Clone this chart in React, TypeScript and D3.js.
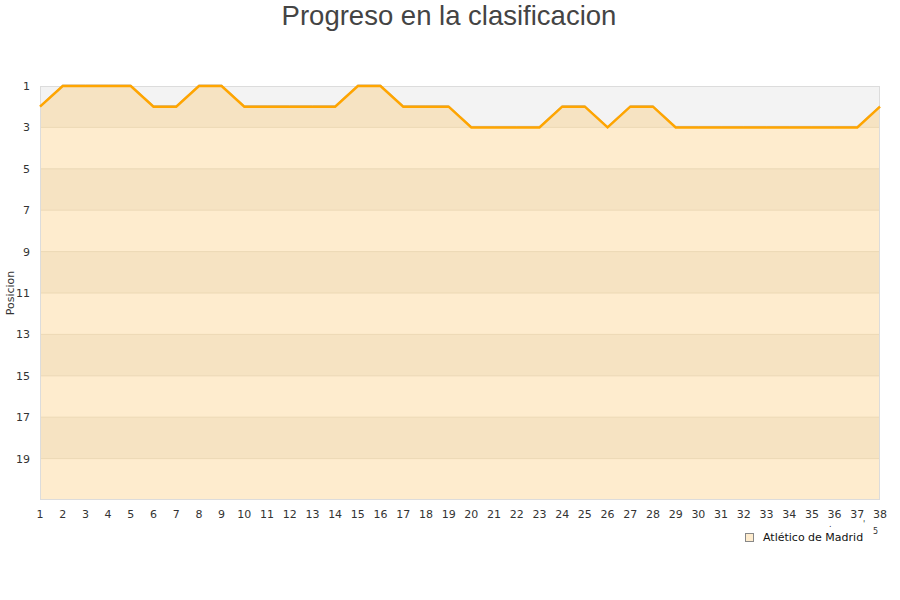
import React from "react";
import { scaleLinear, line, area, range } from "d3";

const jornadas = range(1, 39);
const posiciones = [
  2, 1, 1, 1, 1, 2, 2, 1, 1, 2, 2, 2, 2, 2, 1, 1, 2, 2, 2, 3, 3, 3, 3, 2, 2, 3,
  2, 2, 3, 3, 3, 3, 3, 3, 3, 3, 3, 2,
];
const yTicks = [1, 3, 5, 7, 9, 11, 13, 15, 17, 19];
const bandStarts = [1, 3, 5, 7, 9, 11, 13, 15, 17, 19];
const equipo = "Atlético de Madrid";

const W = 900;
const H = 600;
const left = 40;
const right = 880;
const top = 86;
const bottom = 500;

export default function App() {
  const x = scaleLinear().domain([1, 38]).range([left, right]);
  const y = scaleLinear().domain([1, 21]).range([top, bottom]);

  const pts = jornadas.map((j, i) => ({ j, p: posiciones[i] }));
  const linePath = line<{ j: number; p: number }>()
    .x((d) => x(d.j))
    .y((d) => y(d.p))(pts);
  const greyArea = area<{ j: number; p: number }>()
    .x((d) => x(d.j))
    .y0(y(1))
    .y1((d) => y(d.p))(pts);

  return (
    <div style={{ position: "absolute", left: 0, top: 0 }}>
      <svg width={W} height={H} style={{ display: "block", background: "#fff" }}>
        <text
          x={449}
          y={25}
          textAnchor="middle"
          fontFamily="Liberation Sans, Arial, sans-serif"
          fontSize={27.5}
          fill="#444"
        >
          Progreso en la clasificacion
        </text>

        {/* bands */}
        {bandStarts.map((b, i) => (
          <rect
            key={b}
            x={left}
            y={y(b)}
            width={right - left}
            height={y(b + 2) - y(b)}
            fill={i % 2 === 0 ? "#f6e3c2" : "#feecce"}
          />
        ))}
        {yTicks.slice(1).map((t) => (
          <line
            key={t}
            x1={left}
            x2={right}
            y1={y(t)}
            y2={y(t)}
            stroke="#ecd8b4"
            strokeWidth={1}
          />
        ))}

        <path d={greyArea || ""} fill="#f3f3f3" />

        <rect
          x={left + 0.5}
          y={top + 0.5}
          width={right - left - 1}
          height={bottom - top - 1}
          fill="none"
          stroke="#dcdcdc"
        />

        <path
          d={linePath || ""}
          fill="none"
          stroke="#bdbdbd"
          strokeWidth={1}
          transform="translate(0,-1)"
        />
        <path d={linePath || ""} fill="none" stroke="#ffa500" strokeWidth={2.5} />

        {/* y axis */}
        {yTicks.map((t) => (
          <text
            key={t}
            x={30}
            y={y(t) + 4}
            textAnchor="end"
            fontFamily="DejaVu Sans, sans-serif"
            fontSize={11}
            fill="#333"
          >
            {t}
          </text>
        ))}
        <text
          transform={`translate(14,${(top + bottom) / 2}) rotate(-90)`}
          textAnchor="middle"
          fontFamily="DejaVu Sans, sans-serif"
          fontSize={11}
          fill="#333"
        >
          Posicion
        </text>

        {/* x axis */}
        {jornadas.map((j) => (
          <text
            key={j}
            x={x(j)}
            y={518}
            textAnchor="middle"
            fontFamily="DejaVu Sans, sans-serif"
            fontSize={11}
            fill="#333"
          >
            {j}
          </text>
        ))}
        <text x={829} y={527} fontFamily="DejaVu Sans, sans-serif" fontSize={8} fill="#333">
          .
        </text>
        <text x={863} y={527} fontFamily="DejaVu Sans, sans-serif" fontSize={8} fill="#333">
          '
        </text>
        <text x={873} y={534} fontFamily="DejaVu Sans, sans-serif" fontSize={8} fill="#333">
          5
        </text>

        {/* legend */}
        <rect x={745.5} y={533.5} width={8} height={8} fill="#feecce" stroke="#888" />
        <text x={763} y={541} fontFamily="DejaVu Sans, sans-serif" fontSize={11} fill="#111">
          {equipo}
        </text>
      </svg>
    </div>
  );
}
